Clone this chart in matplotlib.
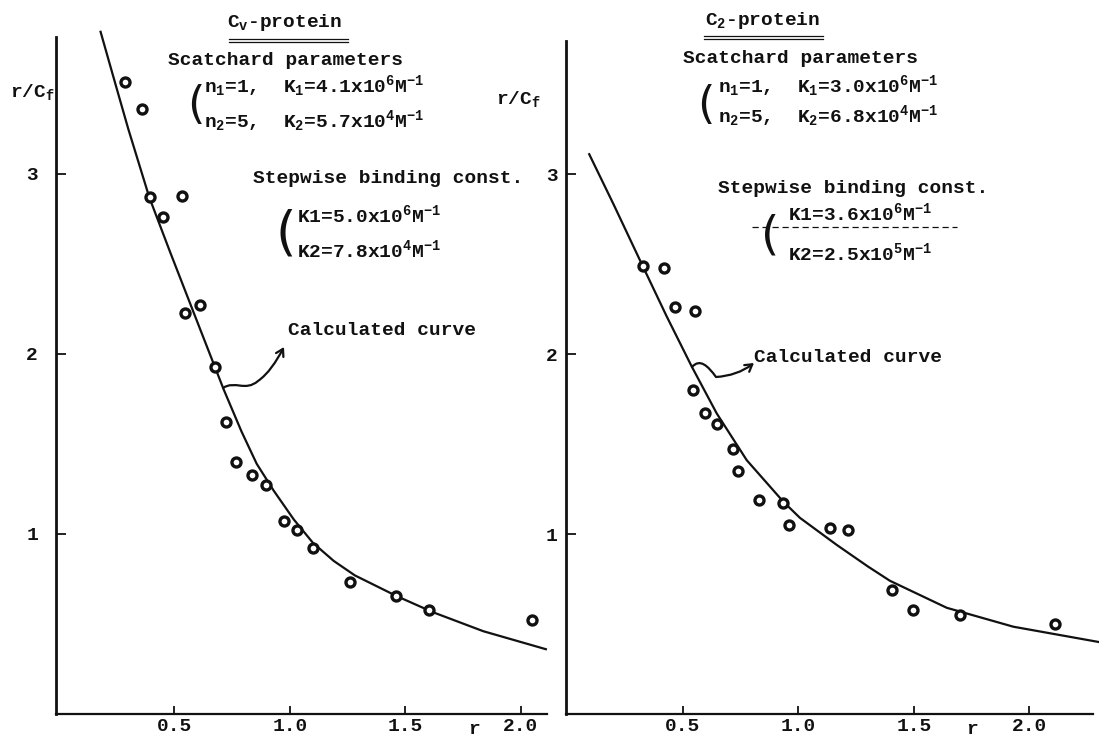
import matplotlib
matplotlib.use("Agg")
import matplotlib.pyplot as plt
from matplotlib.path import Path
from matplotlib.patches import FancyArrowPatch
from matplotlib.lines import Line2D

# ── Scatchard data, Cv-protein ────────────────────────────────────────────
cv_r = [0.286, 0.358, 0.394, 0.531, 0.452, 0.545, 0.610, 0.675, 0.723, 0.765,
        0.834, 0.896, 0.975, 1.029, 1.100, 1.260, 1.460, 1.600, 2.050]
cv_y = [3.51, 3.36, 2.87, 2.88, 2.76, 2.23, 2.27, 1.93, 1.62, 1.40,
        1.33, 1.27, 1.07, 1.02, 0.92, 0.735, 0.655, 0.58, 0.52]

cv_curve_r = [0.180, 0.242, 0.300, 0.391, 0.480, 0.574, 0.650, 0.714, 0.790,
              0.856, 0.930, 1.017, 1.100, 1.190, 1.281, 1.462, 1.620, 1.837, 2.108]
cv_curve_y = [3.79, 3.51, 3.25, 2.87, 2.57, 2.26, 2.01, 1.80, 1.57,
              1.39, 1.24, 1.08, 0.95, 0.85, 0.77, 0.655, 0.565, 0.46, 0.36]

# ── Scatchard data, C2-protein ────────────────────────────────────────────
c2_r = [0.325, 0.418, 0.465, 0.552, 0.545, 0.595, 0.646, 0.718, 0.739, 0.830,
        0.934, 0.959, 1.136, 1.216, 1.403, 1.494, 1.700, 2.110]
c2_y = [2.49, 2.48, 2.26, 2.24, 1.80, 1.67, 1.61, 1.47, 1.35, 1.19,
        1.17, 1.05, 1.035, 1.02, 0.69, 0.58, 0.55, 0.50]

c2_curve_r = [0.094, 0.200, 0.314, 0.429, 0.538, 0.646, 0.776, 0.934, 1.006,
              1.165, 1.300, 1.396, 1.642, 1.930, 2.300]
c2_curve_y = [3.11, 2.83, 2.52, 2.21, 1.93, 1.67, 1.41, 1.18, 1.09,
              0.94, 0.82, 0.74, 0.59, 0.485, 0.40]

x_ticks = [0.5, 1.0, 1.5, 2.0]
x_tick_labels = ["0.5", "1.0", "1.5", "2.0"]
y_ticks = [1, 2, 3]
y_tick_labels = ["1", "2", "3"]

W, H = 1099, 740
INK = "#111111"

plt.rcParams["font.family"] = ["Liberation Mono", "DejaVu Sans Mono"]
plt.rcParams["font.weight"] = "bold"
plt.rcParams["mathtext.fontset"] = "custom"
plt.rcParams["mathtext.rm"] = "Liberation Mono:bold"
plt.rcParams["mathtext.it"] = "Liberation Mono:bold"
plt.rcParams["mathtext.bf"] = "Liberation Mono:bold"
plt.rcParams["mathtext.default"] = "rm"
plt.rcParams["text.color"] = INK

fig = plt.figure(figsize=(W / 100, H / 100), dpi=100)


def fx(x):
    return x / W


def fy(y):
    return 1 - y / H


def axes_px(x0, x1, ytop, ybot):
    return fig.add_axes([x0 / W, 1 - ybot / H, (x1 - x0) / W, (ybot - ytop) / H])


def style(ax, ypad):
    for s in ["top", "right"]:
        ax.spines[s].set_visible(False)
    ax.spines["left"].set_linewidth(2.0)
    ax.spines["bottom"].set_linewidth(1.6)
    ax.spines["left"].set_color(INK)
    ax.spines["bottom"].set_color(INK)
    ax.set_xticks(x_ticks)
    ax.set_xticklabels(x_tick_labels)
    ax.set_yticks(y_ticks)
    ax.set_yticklabels(y_tick_labels)
    ax.tick_params(axis="x", direction="in", length=6, width=1.3, pad=3,
                   labelsize=14, colors=INK)
    ax.tick_params(axis="y", direction="in", length=7, width=1.3, pad=ypad,
                   labelsize=14, colors=INK)
    ax.patch.set_alpha(0)


def draw(ax, r, y, cr, cy):
    ax.plot(cr, cy, color=INK, lw=1.6, clip_on=False, zorder=2,
            solid_joinstyle="round")
    ax.plot(r, y, ls="none", marker="o", ms=6.5, mew=2.4, mfc="white",
            mec=INK, clip_on=False, zorder=3)


def ptext(x, y, s, size=14, **kw):
    fig.text(fx(x), fy(y), s, fontsize=size, va="baseline", ha="left", **kw)


def paren(x, y, size):
    fig.text(fx(x), fy(y), "(", fontsize=size, va="center", ha="center",
             fontweight="normal", family="DejaVu Sans")


def double_rule(x0, x1, y):
    for dy in (0, 3):
        fig.add_artist(Line2D([fx(x0), fx(x1)], [fy(y + dy), fy(y + dy)],
                              color=INK, lw=0.9))


def wavy_arrow(pts):
    codes = [Path.MOVETO] + [Path.CURVE4] * (len(pts) - 1)
    path = Path([(fx(x), fy(y)) for x, y in pts], codes)
    arr = FancyArrowPatch(path=path, arrowstyle="->,head_length=5,head_width=3",
                          color=INK, lw=1.6, transform=fig.transFigure)
    fig.add_artist(arr)


# ── Left panel: Cv-protein ────────────────────────────────────────────────
ax1 = axes_px(56, 547, 37, 714)
ax1.set_xlim(-0.013, 2.113)
ax1.set_ylim(0, 3.761)
style(ax1, ypad=13)
draw(ax1, cv_r, cv_y, cv_curve_r, cv_curve_y)

ptext(227, 27, r"C$_\mathrm{v}$-protein")
double_rule(229, 348, 39)
ptext(168, 65, "Scatchard parameters")
paren(196, 106, 32)
ptext(204, 92, r"n$_1$=1,  K$_1$=4.1x10$^6$M$^{-1}$")
ptext(204, 127, r"n$_2$=5,  K$_2$=5.7x10$^4$M$^{-1}$")
ptext(253, 183, "Stepwise binding const.")
paren(286, 234, 38)
ptext(297, 222, r"K1=5.0x10$^6$M$^{-1}$")
ptext(297, 257, r"K2=7.8x10$^4$M$^{-1}$")
ptext(288, 335, "Calculated curve")
wavy_arrow([(223, 388), (235, 380), (245, 392), (258, 381),
            (268, 374), (276, 362), (284, 347)])
fig.text(fx(10), fy(97), r"r/C$_\mathrm{f}$", fontsize=14, ha="left", va="baseline")
fig.text(fx(474), fy(730), "r", fontsize=14, ha="center", va="center")

# ── Right panel: C2-protein ───────────────────────────────────────────────
ax2 = axes_px(566, 1093, 41, 714)
ax2.set_xlim(-0.0065, 2.275)
ax2.set_ylim(0, 3.739)
style(ax2, ypad=6)
draw(ax2, c2_r, c2_y, c2_curve_r, c2_curve_y)

ptext(705, 25, r"C$_2$-protein")
double_rule(704, 823, 36)
ptext(683, 63, "Scatchard parameters")
paren(706, 106, 32)
ptext(718, 92, r"n$_1$=1,  K$_1$=3.0x10$^6$M$^{-1}$")
ptext(718, 122, r"n$_2$=5,  K$_2$=6.8x10$^4$M$^{-1}$")
ptext(718, 193, "Stepwise binding const.")
fig.add_artist(Line2D([fx(752), fx(957)], [fy(227), fy(227)], color=INK,
                      lw=0.9, ls=(0, (5, 3))))
paren(770, 236, 34)
ptext(788, 220, r"K1=3.6x10$^6$M$^{-1}$")
ptext(788, 260, r"K2=2.5x10$^5$M$^{-1}$")
ptext(754, 362, "Calculated curve")
wavy_arrow([(692, 367), (700, 358), (708, 366), (716, 377),
            (730, 376), (742, 372), (754, 363)])
fig.text(fx(496), fy(104), r"r/C$_\mathrm{f}$", fontsize=14, ha="left", va="baseline")
fig.text(fx(972), fy(730), "r", fontsize=14, ha="center", va="center")

fig.savefig("out.png", dpi=100, facecolor="white")
